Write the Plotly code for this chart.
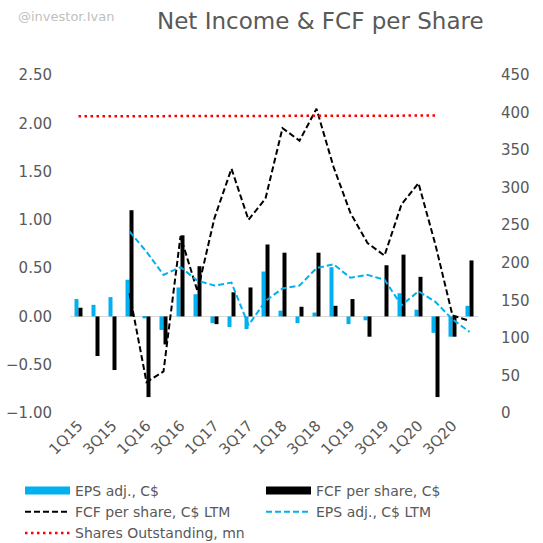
import plotly.graph_objects as go

quarters = ["1Q15", "2Q15", "3Q15", "4Q15", "1Q16", "2Q16", "3Q16", "4Q16",
            "1Q17", "2Q17", "3Q17", "4Q17", "1Q18", "2Q18", "3Q18", "4Q18",
            "1Q19", "2Q19", "3Q19", "4Q19", "1Q20", "2Q20", "3Q20", "4Q20"]
tick_labels = ["1Q15", "3Q15", "1Q16", "3Q16", "1Q17", "3Q17",
               "1Q18", "3Q18", "1Q19", "3Q19", "1Q20", "3Q20"]

eps_adj = [0.18, 0.12, 0.20, 0.38, -0.02, -0.14, 0.30, 0.23,
           -0.07, -0.11, -0.13, 0.465, 0.06, -0.07, 0.04, 0.51,
           -0.08, -0.04, 0.0, 0.24, 0.07, -0.17, -0.21, 0.11]
fcf_ps = [0.09, -0.41, -0.555, 1.10, -0.835, -0.29, 0.84, 0.52,
          -0.08, 0.25, 0.30, 0.745, 0.66, 0.10, 0.66, 0.11,
          0.18, -0.21, 0.53, 0.64, 0.41, -0.835, -0.21, 0.58]
fcf_ltm = [None, None, None, 0.24, -0.68, -0.57, 0.83, 0.26,
           1.02, 1.53, 1.00, 1.22, 1.95, 1.82, 2.15, 1.55,
           1.07, 0.76, 0.63, 1.16, 1.38, 0.74, 0.01, -0.045]
eps_ltm = [None, None, None, 0.88, 0.67, 0.43, 0.51, 0.37,
           0.32, 0.35, -0.09, 0.16, 0.29, 0.32, 0.50, 0.54,
           0.40, 0.43, 0.38, 0.115, 0.26, 0.15, -0.03, -0.16]
shares_mn = [395, 395, 395, 395, 395, 395, 395, 395, 395.5, 395.5, 395.5,
             396, 396, 396, 396, 396, 396, 396, 396, 396, 396, 396]

FONT = "Tahoma, 'DejaVu Sans', Verdana, sans-serif"
GREY = "#595959"
BLUE = "#00b0f0"

fig = go.Figure()
fig.add_trace(go.Bar(x=quarters, y=eps_adj, name="EPS adj., C$", showlegend=False,
                     marker_color=BLUE, marker_line_width=0))
fig.add_trace(go.Bar(x=quarters, y=fcf_ps, name="FCF per share, C$", showlegend=False,
                     marker_color="#000000", marker_line_width=0))
# legend entries for the bars (wide rectangle swatches, as in the original)
fig.add_trace(go.Scatter(x=[None], y=[None], name="EPS adj., C$", mode="lines",
                         line=dict(color=BLUE, width=8), legendrank=1))
fig.add_trace(go.Scatter(x=[None], y=[None], name="FCF per share, C$", mode="lines",
                         line=dict(color="#000000", width=8), legendrank=2))
fig.add_trace(go.Scatter(x=quarters, y=fcf_ltm, name="FCF per share, C$ LTM",
                         mode="lines", legendrank=3,
                         line=dict(color="#000000", width=2, dash="6px,3px")))
fig.add_trace(go.Scatter(x=quarters, y=eps_ltm, name="EPS adj., C$ LTM",
                         mode="lines", legendrank=4,
                         line=dict(color=BLUE, width=2, dash="6px,3px")))
fig.add_trace(go.Scatter(x=quarters[:len(shares_mn)], y=shares_mn, name="Shares Outstanding, mn",
                         mode="lines", yaxis="y2", legendrank=5,
                         line=dict(color="#ff0000", width=2.5, dash="2.5px,3.5px")))

fig.update_layout(
    width=543, height=543,
    margin=dict(l=70, r=65, t=75, b=130, autoexpand=False),
    paper_bgcolor="white", plot_bgcolor="white",
    font=dict(family=FONT, color=GREY, size=15),
    barmode="group", bargap=0.53, bargroupgap=0,
    showlegend=True,
    legend=dict(orientation="h", x=(20 - 70) / 408, y=(413 - 475) / 338,
                xanchor="left", yanchor="top",
                entrywidth=181, entrywidthmode="pixels",
                font=dict(size=14, color=GREY), tracegroupgap=0,
                itemwidth=45),
    xaxis=dict(type="category", tickmode="array", tickvals=tick_labels,
               ticktext=tick_labels, tickangle=-45, showgrid=False, automargin=False,
               showline=False, ticks="", tickfont=dict(size=15, color=GREY)),
    yaxis=dict(range=[-1, 2.5], dtick=0.5, tickformat=".2f", showgrid=False,
               zeroline=True, zerolinecolor="#d9d9d9", zerolinewidth=1, automargin=False,
               ticks="", ticklabelstandoff=17, tickfont=dict(size=15, color=GREY)),
    yaxis2=dict(range=[0, 450], dtick=50, overlaying="y", side="right", automargin=False,
                showgrid=False, zeroline=False, ticks="", ticklabelstandoff=22,
                tickfont=dict(size=15, color=GREY)),
    annotations=[
        dict(text="Net Income & FCF per Share", xref="paper", yref="paper",
             x=(320 - 70) / 408, y=(413 - 21) / 338, showarrow=False,
             xanchor="center", yanchor="middle",
             font=dict(size=23, color=GREY, family=FONT)),
        dict(text="@investor.Ivan", xref="paper", yref="paper",
             x=(16 - 70) / 408, y=(413 - 16) / 338, showarrow=False,
             xanchor="left", yanchor="middle",
             font=dict(size=13, color="#bfbfbf", family=FONT)),
    ],
)

fig.write_html("out.html", config={"displayModeBar": False},
               post_script="document.body.style.margin='0';document.body.style.overflow='hidden';")
